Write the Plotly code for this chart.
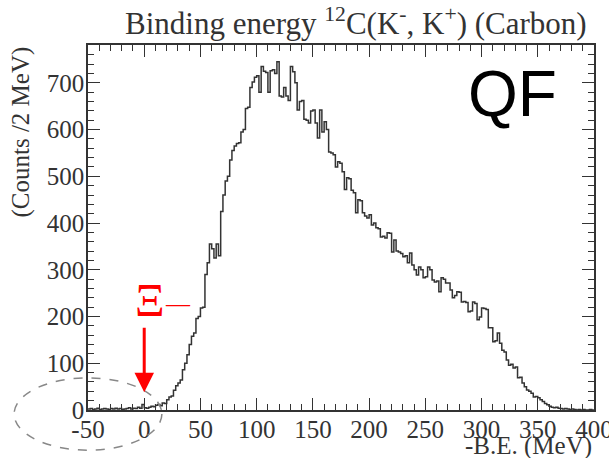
import plotly.graph_objects as go

# Bin lower edges: -50 .. 398 step 2 (2 MeV bins)
bin_width = 2
x_start = -50
counts_neg = [2, 3, 1, 2, 4, 1, 2, 3, 2, 1, 3, 2, 4, 2, 3, 1, 2, 3, 5, 2, 4, 3, 6, 4, 12]
counts_0_20 = [5, 4, 6, 8, 7, 10, 12, 9, 15, 14]
counts_20_400 = [
    22, 28, 30, 42, 52, 58, 64, 86, 100, 118,
    140, 158, 165, 196, 200, 218, 220, 290, 315, 355,
    345, 325, 355, 330, 425, 460, 490, 500, 535, 555,
    565, 570, 572, 595, 600, 645, 648, 690, 702, 712,
    715, 680, 735, 725, 722, 680, 726, 728, 720, 745,
    672, 670, 690, 672, 662, 735, 724, 700, 642, 660,
    662, 622, 620, 614, 640, 642, 614, 582, 642, 595,
    617, 600, 552, 550, 546, 520, 531, 528, 510, 472,
    497, 495, 470, 465, 422, 450, 448, 422, 415, 411,
    418, 396, 400, 390, 388, 370, 372, 368, 379, 378,
    338, 364, 340, 338, 335, 328, 330, 315, 336, 310,
    300, 289, 306, 300, 283, 285, 306, 300, 278, 274,
    276, 253, 283, 280, 272, 272, 257, 240, 245, 253,
    252, 231, 232, 230, 210, 212, 231, 228, 193, 199,
    218, 217, 215, 176, 176, 146, 148, 165, 143, 128,
    124, 107, 96, 98, 90, 92, 69, 70, 58, 50,
    43, 40, 36, 28, 29, 26, 22, 18, 14, 11,
    8, 6, 5, 6, 4, 3, 2, 3, 2, 1,
    2, 1, 0, 1, 0, 1, 0, 0, 1, 0,
]
counts = counts_neg + counts_0_20 + counts_20_400
edges = [x_start + bin_width * i for i in range(len(counts) + 1)]
y_step = counts + [counts[-1]]

x_ticks = [-50, 0, 50, 100, 150, 200, 250, 300, 350, 400]
y_ticks = [0, 100, 200, 300, 400, 500, 600, 700]

serif = "Liberation Serif, Times New Roman, serif"
ink = "#333333"
fig = go.Figure()
fig.add_trace(go.Scatter(
    x=edges, y=y_step, mode="lines", line=dict(shape="hv", color=ink, width=1.5),
    hoverinfo="skip", showlegend=False,
))

fig.update_layout(
    width=609, height=458,
    margin=dict(l=88, r=15, t=45, b=48, autoexpand=False),
    paper_bgcolor="white", plot_bgcolor="white",
    showlegend=False,
    font=dict(family=serif, size=25, color=ink),
)
axis_common = dict(
    showline=True, linecolor=ink, linewidth=1.5, mirror="allticks",
    ticks="inside", ticklen=12, tickwidth=1.2, tickcolor=ink,
    showgrid=False, zeroline=False, ticklabeloverflow="allow", automargin=False,
    tickfont=dict(family=serif, size=25, color=ink),
)
fig.update_xaxes(
    range=[-50, 400], tickvals=x_ticks, ticktext=[str(v) for v in x_ticks],
    ticklabelstandoff=-4,
    minor=dict(dtick=10, ticks="inside", ticklen=6, tickcolor=ink, tickwidth=1.2, showgrid=False),
    **axis_common,
)
fig.update_yaxes(
    range=[0, 781], tickvals=y_ticks, ticktext=[str(v) for v in y_ticks],
    ticklabelstandoff=-3,
    minor=dict(dtick=20, ticks="inside", ticklen=6, tickcolor=ink, tickwidth=1.2, showgrid=False),
    **axis_common,
)

annotations = [
    dict(text="Binding energy <sup>12</sup>C(K<sup>-</sup>, K<sup>+</sup>) (Carbon)",
         xref="paper", yref="paper", x=0.53, y=1.0, yshift=24, xanchor="center", yanchor="middle",
         showarrow=False, font=dict(family=serif, size=31, color=ink)),
    dict(text="(Counts /2 MeV)", xref="paper", yref="paper", x=0, xshift=-68, y=1.0,
         xanchor="center", yanchor="top", textangle=-90, showarrow=False,
         font=dict(family=serif, size=25, color=ink)),
    dict(text="-B.E. (MeV)", xref="paper", yref="paper", x=1.0, y=0, yshift=-36,
         xanchor="right", yanchor="middle", showarrow=False,
         font=dict(family=serif, size=25, color=ink)),
    dict(text="QF", xref="paper", yref="paper", x=0.838, y=0.866, xanchor="center", yanchor="middle",
         showarrow=False, font=dict(family="Liberation Sans", size=64, color="black")),
    dict(text="Ξ", xref="x", yref="paper", x=5, y=0.301, xanchor="center", yanchor="middle",
         showarrow=False, font=dict(family=serif, size=46, color="#ff0000")),
    dict(text="—", xref="x", yref="paper", x=30, y=0.293, xanchor="center", yanchor="middle",
         showarrow=False, font=dict(family=serif, size=24, color="#ff0000")),
    dict(text="", x=0, y=38, xref="x", yref="y", showarrow=True, ax=0, ay=-66,
         arrowhead=2, arrowsize=1.3, arrowwidth=3, arrowcolor="#ff0000"),
]
fig.update_layout(annotations=annotations)

fig.add_shape(type="circle", xref="paper", yref="paper",
              x0=-0.146, x1=0.146, y0=-0.11, y1=0.088,
              line=dict(color="#888888", width=1.5, dash="dash"), layer="above")

fig.write_html("out.html")
